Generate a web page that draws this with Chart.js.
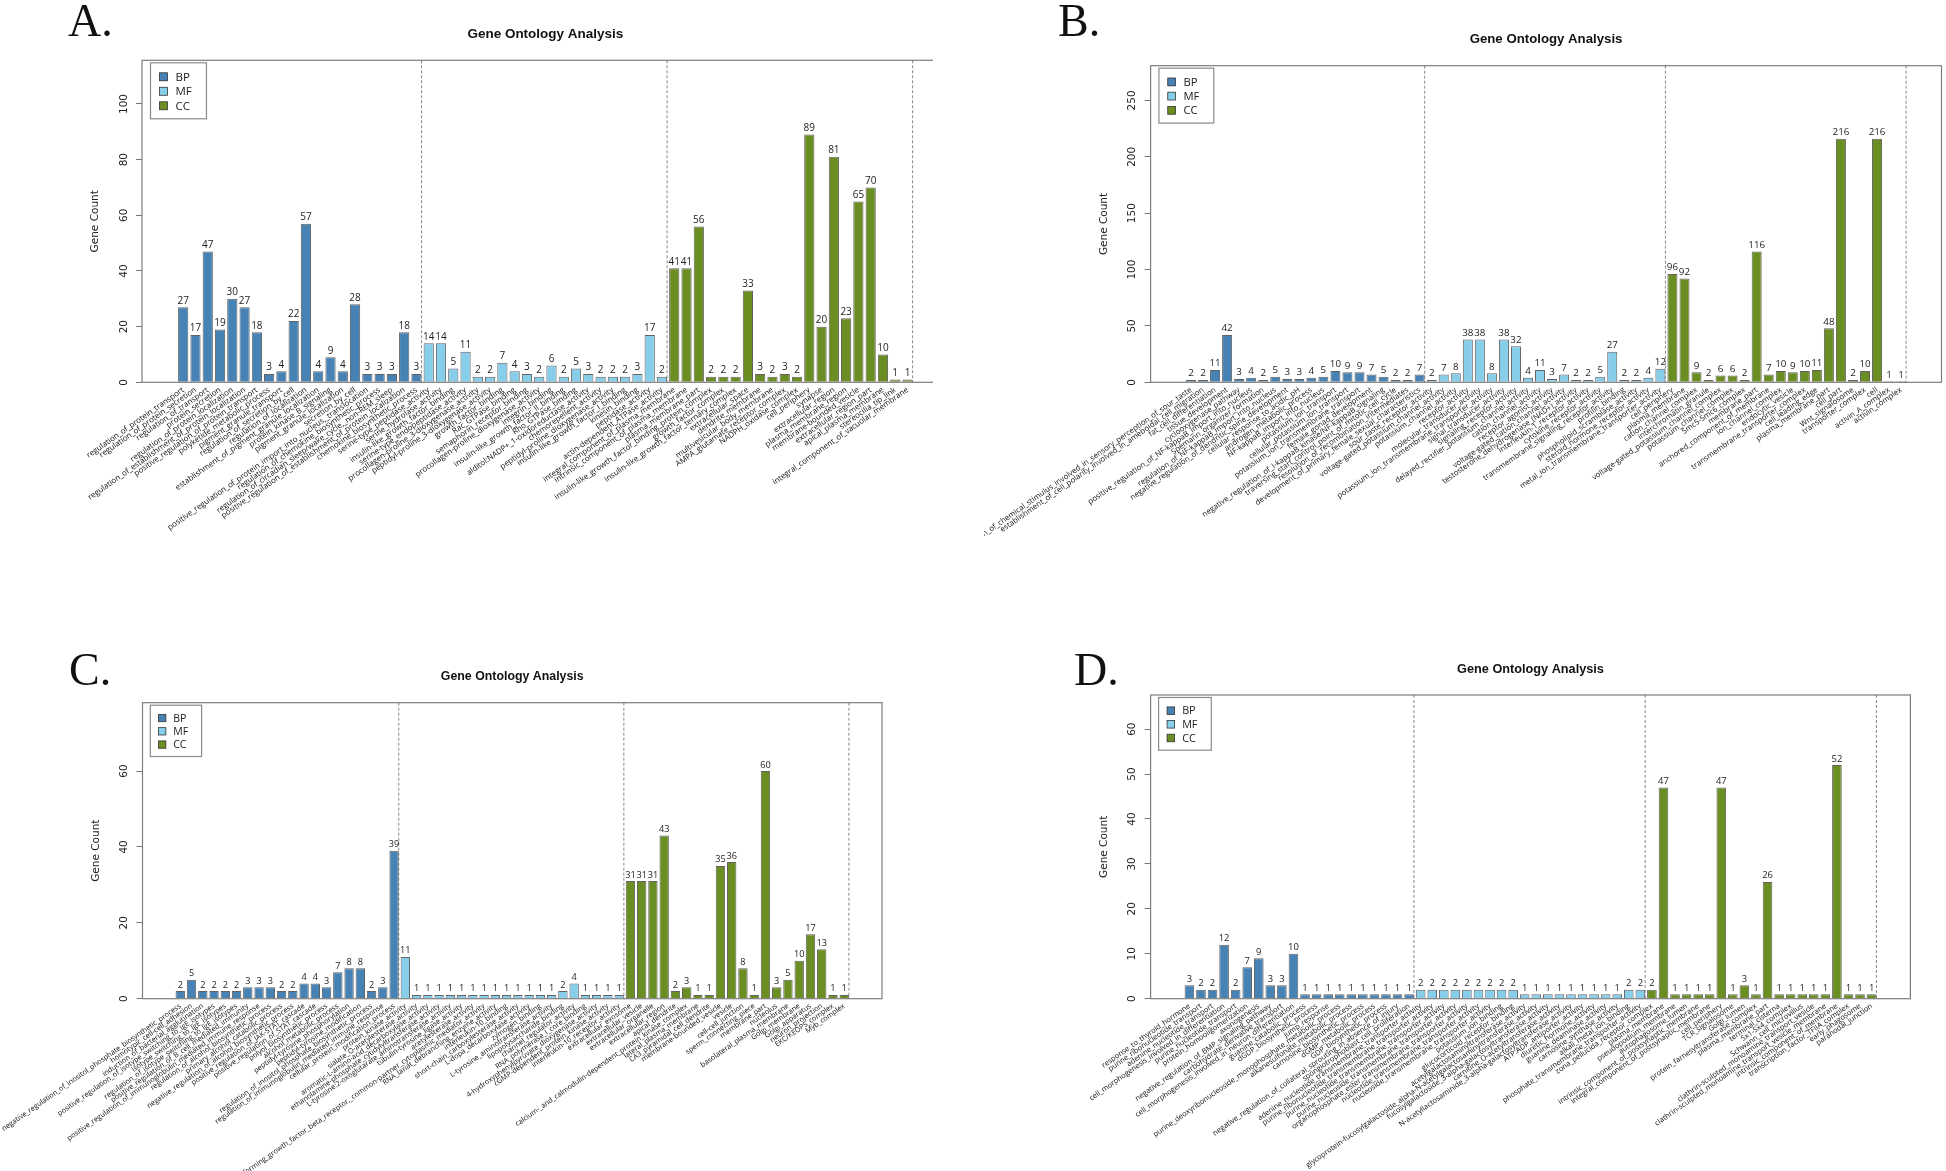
<!DOCTYPE html>
<html>
<head>
<meta charset="utf-8">
<script src="https://cdn.jsdelivr.net/npm/chart.js@4.4.1/dist/chart.umd.min.js"></script>
<style>
html, body { margin: 0; padding: 0; background: #fff; }
body { width: 1946px; height: 1171px; position: relative; overflow: hidden; }
.panel { position: absolute; overflow: hidden; }
.panel canvas { position: absolute; left: 0; top: 0; }
</style>
</head>
<body>
<div class="panel" style="left:0;top:0;width:933px;height:585px"><canvas id="cA" width="973" height="585"></canvas></div>
<div class="panel" style="left:984px;top:0;width:962px;height:585px"><canvas id="cB" width="962" height="585"></canvas></div>
<div class="panel" style="left:0;top:585px;width:973px;height:586px"><canvas id="cC" width="973" height="586"></canvas></div>
<div class="panel" style="left:973px;top:585px;width:973px;height:586px"><canvas id="cD" width="973" height="586"></canvas></div>
<script>
// groupes GO et couleurs
const GROUPS = ['BP', 'MF', 'CC'];
const COLORS = ['#4682B4', '#87CEEB', '#6B8E23'];
const TITLE = 'Gene Ontology Analysis';
const Y_TITLE = 'Gene Count';

// ---- panel A ----
const aBpLabels = ['regulation_of_protein_transport', 'regulation_of_protein_secretion', 'regulation_of_transport', 'protein_secretion', 'regulation_of_protein_localization', 'regulation_of_establishment_of_protein_localization', 'positive_regulation_of_protein_transport', 'polyketide_metabolic_process', 'pigment_granule_transport', 'regulation_of_secretion_by_cell', 'regulation_of_localization', 'establishment_of_pigment_granule_localization', 'protein_kinase_B_signaling', 'pigment_granule_localization', 'secretion_by_cell', 'positive_regulation_of_protein_import_into_nucleus,_translocation', 'regulation_of_chemokine_biosynthetic_process', 'regulation_of_circadian_sleep/wake_cycle,_non-REM_sleep', 'positive_regulation_of_establishment_of_protein_localization', 'chemokine_biosynthetic_process'];
const aBpCounts = [27, 17, 47, 19, 30, 27, 18, 3, 4, 22, 57, 4, 9, 4, 28, 3, 3, 3, 18, 3];
const aMfLabels = ['serine-type_peptidase_activity', 'serine_hydrolase_activity', 'insulin-like_growth_factor_binding', 'serine-type_endopeptidase_activity', 'procollagen-proline_3-dioxygenase_activity', 'peptidyl-proline_3-dioxygenase_activity', 'growth_factor_binding', 'Rac_GTPase_binding', 'semaphorin_receptor_binding', 'procollagen-proline_dioxygenase_activity', 'integrin_binding', 'insulin-like_growth_factor_II_binding', 'Rho_GTPase_binding', 'alditol:NADP+_1-oxidoreductase_activity', 'chemorepellent_activity', 'peptidyl-proline_dioxygenase_activity', 'insulin-like_growth_factor_I_binding', 'kinesin_binding', 'peptidase_activity', 'actin-dependent_ATPase_activity'];
const aMfCounts = [14, 14, 5, 11, 2, 2, 7, 4, 3, 2, 6, 2, 5, 3, 2, 2, 2, 3, 17, 2];
const aCcLabels = ['integral_component_of_plasma_membrane', 'intrinsic_component_of_plasma_membrane', 'plasma_membrane_part', 'insulin-like_growth_factor_binding_protein_complex', 'growth_factor_complex', 'insulin-like_growth_factor_ternary_complex', 'extracellular_space', 'dendrite_membrane', 'multivesicular_body_membrane', 'AMPA_glutamate_receptor_complex', 'NADPH_oxidase_complex', 'cell_periphery', 'synapse', 'extracellular_region', 'plasma_membrane_region', 'membrane-bounded_vesicle', 'extracellular_region_part', 'apical_plasma_membrane', 'stereocilia_tip_link', 'integral_component_of_vacuolar_membrane'];
const aCcCounts = [41, 41, 56, 2, 2, 2, 33, 3, 2, 3, 2, 89, 20, 81, 23, 65, 70, 10, 1, 1];
const aTicks = [0, 20, 40, 60, 80, 100];

// ---- panel B ----
const bBpLabels = ['detection_of_chemical_stimulus_involved_in_sensory_perception_of_sour_taste', 'establishment_of_cell_polarity_involved_in_ameboidal_cell_migration', 'fat_cell_differentiation', 'tissue_development', 'cyclooxygenase_pathway', 'positive_regulation_of_NF-kappaB_import_into_nucleus', 'Spemann_organizer_formation', 'regulation_of_NF-kappaB_import_into_nucleus', 'negative_regulation_of_dendritic_spine_development', 'cellular_response_to_acidic_pH', 'androgen_metabolic_process', 'NF-kappaB_import_into_nucleus', 'potassium_ion_transport', 'cellular_potassium_ion_transport', 'potassium_ion_transmembrane_transport', 'female_gonad_development', 'negative_regulation_of_I-kappaB_kinase/NF-kappaB_signaling', 'traversing_start_control_point_of_mitotic_cell_cycle', 'resolution_of_recombination_intermediates', 'development_of_primary_female_sexual_characteristics'];
const bBpCounts = [2, 2, 11, 42, 3, 4, 2, 5, 3, 3, 4, 5, 10, 9, 9, 7, 5, 2, 2, 7];
const bMfLabels = ['sour_taste_receptor_activity', 'voltage-gated_potassium_channel_activity', 'potassium_channel_activity', 'receptor_activity', 'molecular_transducer_activity', 'potassium_ion_transmembrane_transporter_activity', 'signal_transducer_activity', 'signaling_receptor_activity', 'delayed_rectifier_potassium_channel_activity', 'cation_channel_activity', 'receptor_agonist_activity', 'voltage-gated_cation_channel_activity', 'testosterone_dehydrogenase_(NAD+)_activity', 'interleukin-1_receptor_activity', 'cytokine_receptor_activity', 'transmembrane_signaling_receptor_activity', 'profilin_binding', 'phospholipid_scramblase_activity', 'steroid_hormone_receptor_activity', 'metal_ion_transmembrane_transporter_activity'];
const bMfCounts = [2, 7, 8, 38, 38, 8, 38, 32, 4, 11, 3, 7, 2, 2, 5, 27, 2, 2, 4, 12];
const bCcLabels = ['cell_periphery', 'plasma_membrane', 'cation_channel_complex', 'interchromatin_granule', 'voltage-gated_potassium_channel_complex', 'potassium_channel_complex', 'Smc5-Smc6_complex', 'membrane_part', 'anchored_component_of_membrane', 'ion_channel_complex', 'endocytic_vesicle', 'transmembrane_transporter_complex', 'cell_leading_edge', 'plasma_membrane_part', 'cell_part', 'Wnt_signalosome', 'transporter_complex', 'cell', 'activin_A_complex', 'activin_complex'];
const bCcCounts = [96, 92, 9, 2, 6, 6, 2, 116, 7, 10, 9, 10, 11, 48, 216, 2, 10, 216, 1, 1];
const bTicks = [0, 50, 100, 150, 200, 250];

// ---- panel C ----
const cBpLabels = ['negative_regulation_of_inositol_phosphate_biosynthetic_process', 'homotypic_cell-cell_adhesion', 'induction_of_bacterial_agglutination', 'positive_regulation_of_isotype_switching_to_IgE_isotypes', 'isotype_switching_to_IgE_isotypes', 'regulation_of_isotype_switching_to_IgE_isotypes', 'positive_regulation_of_B_cell_mediated_immunity', 'positive_regulation_of_immunoglobulin_mediated_immune_response', 'regulation_of_alcohol_biosynthetic_process', 'primary_alcohol_catabolic_process', 'negative_regulation_of_alcohol_biosynthetic_process', 'positive_regulation_of_JAK-STAT_cascade', 'positive_regulation_of_STAT_cascade', 'polyol_biosynthetic_process', 'alcohol_metabolic_process', 'peptidyl-tyrosine_phosphorylation', 'peptidyl-tyrosine_modification', 'regulation_of_inositol_phosphate_biosynthetic_process', 'regulation_of_immunoglobulin_mediated_immune_response', 'cellular_protein_modification_process'];
const cBpCounts = [2, 5, 2, 2, 2, 2, 3, 3, 3, 2, 2, 4, 4, 3, 7, 8, 8, 2, 3, 39];
const cMfLabels = ['protein_kinase_activity', 'sialate_O-acetylesterase_activity', 'aromatic-L-amino-acid_decarboxylase_activity', 'ethanolamine-phosphate_cytidylyltransferase_activity', 'L-tyrosine:2-oxoglutarate_aminotransferase_activity', 'tubulin-tyrosine_ligase_activity', 'acetylesterase_activity', 'transforming_growth_factor_beta_receptor,_common-partner_cytoplasmic_mediator_activity', 'RNA_lariat_debranching_enzyme_activity', 'interleukin-10_binding', 'short-chain_carboxylesterase_activity', 'L-dopa_decarboxylase_activity', 'zymogen_binding', 'L-tyrosine_aminotransferase_activity', 'lipopolysaccharide_binding', 'channel_regulator_activity', 'RNA_polymerase_I_core_binding', '4-hydroxyphenylpyruvate_dioxygenase_activity', 'cGMP-dependent_protein_kinase_activity', 'interleukin-10_receptor_activity'];
const cMfCounts = [11, 1, 1, 1, 1, 1, 1, 1, 1, 1, 1, 1, 1, 1, 2, 4, 1, 1, 1, 1];
const cCcLabels = ['extracellular_exosome', 'extracellular_vesicle', 'extracellular_organelle', 'extracellular_region', 'apical_dendrite', 'calcium-_and_calmodulin-dependent_protein_kinase_complex', 'lateral_plasma_membrane', 'CA3_pyramidal_cell_dendrite', 'membrane-bounded_vesicle', 'vesicle', 'cell-cell_junction', 'sperm_connecting_piece', 'membrane_part', 'nucleolus', 'basolateral_plasma_membrane', 'Golgi_membrane', 'Golgi_apparatus', 'neuron_projection', 'EKC/KEOPS_complex', 'Myb_complex'];
const cCcCounts = [31, 31, 31, 43, 2, 3, 1, 1, 35, 36, 8, 1, 60, 3, 5, 10, 17, 13, 1, 1];
const cTicks = [0, 20, 40, 60];

// ---- panel D ----
const dBpLabels = ['response_to_thyroid_hormone', 'purine_ribonucleotide_transport', 'adenine_nucleotide_transport', 'cell_morphogenesis_involved_in_differentiation', 'purine_nucleotide_transport', 'protein_homooligomerization', 'axonogenesis', 'negative_regulation_of_BMP_signaling_pathway', 'carbohydrate_derivative_transport', 'cell_morphogenesis_involved_in_neuron_differentiation', 'guanine_catabolic_process', 'dGDP_biosynthetic_process', 'jump_response', 'purine_deoxyribonucleoside_monophosphate_metabolic_process', 'alkanesulfonate_metabolic_process', 'carnosine_biosynthetic_process', 'dGMP_metabolic_process', 'GDP_biosynthetic_process', 'negative_regulation_of_collateral_sprouting_in_absence_of_injury', 'spongiotrophoblast_cell_proliferation'];
const dBpCounts = [3, 2, 2, 12, 2, 7, 9, 3, 3, 10, 1, 1, 1, 1, 1, 1, 1, 1, 1, 1];
const dMfLabels = ['adenine_nucleotide_transmembrane_transporter_activity', 'purine_ribonucleotide_transmembrane_transporter_activity', 'purine_nucleotide_transmembrane_transporter_activity', 'purine_nucleoside_transmembrane_transporter_activity', 'organophosphate_ester_transmembrane_transporter_activity', 'nucleotide_transmembrane_transporter_activity', 'nucleoside_transmembrane_transporter_activity', 'potassium_ion_binding', 'glucocorticoid_receptor_binding', 'acetylgalactosaminyltransferase_activity', 'glycoprotein-fucosylgalactoside_alpha-N-acetylgalactosaminyltransferase_activity', 'fucosylgalactoside_3-alpha-galactosyltransferase_activity', 'carnitine_O-acetyltransferase_activity', 'N-acetyllactosaminide_3-alpha-galactosyltransferase_activity', 'ATP:ADP_antiporter_activity', 'diuretic_hormone_activity', 'guanine_deaminase_activity', 'carnosine_synthase_activity', 'alkali_metal_ion_binding', 'phosphate_transmembrane_transporter_activity'];
const dMfCounts = [2, 2, 2, 2, 2, 2, 2, 2, 2, 1, 1, 1, 1, 1, 1, 1, 1, 1, 2, 2];
const dCcLabels = ['zona_pellucida_receptor_complex', 'plasma_membrane', 'pseudopodium_membrane', 'autophagosome_lumen', 'intrinsic_component_of_postsynaptic_membrane', 'integral_component_of_postsynaptic_membrane', 'cell_periphery', 'TCR_signalosome', 'Golgi_lumen', 'protein_farnesyltransferase_complex', 'plasma_membrane_part', 'terminal_cisterna', 'Sx1-Sx4_complex', 'Schwann_cell_microvillus', 'clathrin-sculpted_monoamine_transport_vesicle', 'clathrin-sculpted_monoamine_transport_vesicle_membrane', 'intrinsic_component_of_membrane', 'transcription_factor_TFIIA_complex', 'early_phagosome', 'paranodal_junction'];
const dCcCounts = [2, 47, 1, 1, 1, 1, 47, 1, 3, 1, 26, 1, 1, 1, 1, 1, 52, 1, 1, 1];
const dTicks = [0, 10, 20, 30, 40, 50, 60];

// dessin du cadre, des séparateurs, des valeurs, de la légende et des titres
const decoPlugin = {
  id: 'deco',
  afterDraw(chart, args, o) {
    const { ctx, chartArea: a } = chart;
    const x = chart.scales.x;
    const s = o.scale;
    ctx.save();

    ctx.strokeStyle = '#7d7d7d';
    ctx.lineWidth = 1.2;
    ctx.strokeRect(a.left, a.top, a.right - a.left, a.bottom - a.top);

    ctx.setLineDash([3, 2]);
    ctx.strokeStyle = '#6a6a6a';
    ctx.lineWidth = 0.8;
    o.bounds.forEach(v => {
      const px = x.getPixelForValue(v);
      ctx.beginPath();
      ctx.moveTo(px, a.top);
      ctx.lineTo(px, a.bottom);
      ctx.stroke();
    });
    ctx.setLineDash([]);

    // valeurs au dessus des barres
    ctx.fillStyle = '#222';
    ctx.font = (10 * s).toFixed(2) + 'px "Open Sans"';
    ctx.textAlign = 'center';
    ctx.textBaseline = 'bottom';
    chart.data.datasets.forEach((ds, i) => {
      chart.getDatasetMeta(i).data.forEach((bar, j) => {
        ctx.fillText(String(ds.data[j].y), bar.x, bar.y - 1.5);
      });
    });

    // légende
    const lx = a.left + 8.5 * s, ly = a.top + 2.5, lw = 56 * s, lh = 56 * s;
    ctx.fillStyle = '#fff';
    ctx.fillRect(lx, ly, lw, lh);
    ctx.strokeStyle = '#8a8a8a';
    ctx.lineWidth = 1.2;
    ctx.strokeRect(lx, ly, lw, lh);
    ctx.font = (11.5 * s).toFixed(2) + 'px "Open Sans"';
    ctx.textAlign = 'left';
    ctx.textBaseline = 'middle';
    chart.data.datasets.forEach((ds, i) => {
      const cy = ly + (14 + i * 14.5) * s;
      const q = 8 * s;
      ctx.fillStyle = ds.backgroundColor;
      ctx.fillRect(lx + 9 * s, cy - q / 2, q, q);
      ctx.strokeStyle = '#333';
      ctx.lineWidth = 0.8;
      ctx.strokeRect(lx + 9 * s, cy - q / 2, q, q);
      ctx.fillStyle = '#222';
      ctx.fillText(ds.label, lx + 25 * s, cy + 0.5);
    });

    // titre et lettre du panneau
    ctx.fillStyle = '#111';
    ctx.font = 'bold ' + (13.5 * s).toFixed(2) + 'px "Liberation Sans"';
    ctx.textAlign = 'center';
    ctx.fillText(TITLE, (a.left + a.right) / 2, a.top - 26);
    ctx.font = '46px "Liberation Serif"';
    ctx.textAlign = 'left';
    ctx.textBaseline = 'alphabetic';
    ctx.fillText(o.letter, o.letterX, o.letterY);
    ctx.restore();
  }
};

const meas = document.createElement('canvas').getContext('2d');
meas.font = '10.5px "DejaVu Sans"';

function buildPanel(id, letter, labelSets, countSets, yTicks, L) {
  const labels = labelSets.flat();
  const centers = labels.map((_, i) => 0.7 + 1.2 * i);
  const starts = [];
  let n = 0;
  countSets.forEach(c => { starts.push(n); n += c.length; });
  const bounds = countSets.map((c, k) => 1.2 * (starts[k] + c.length));
  const ymax = Math.max(...countSets.flat()) * 1.3;
  const widest = Math.max(...yTicks.map(v => meas.measureText(String(v)).width));
  const YW = 60;
  const xmin = -2.67, xmax = 74.87;
  const unit = (L.boxRight - L.boxLeft) / (xmax - xmin);
  const s = unit / 10.41;

  const datasets = GROUPS.map((g, k) => ({
    label: g,
    data: countSets[k].map((v, i) => ({ x: centers[starts[k] + i], y: v })),
    backgroundColor: COLORS[k],
    borderColor: 'rgba(45,45,45,0.75)',
    borderWidth: 1,
    borderSkipped: 'bottom',
    grouped: false,
    categoryPercentage: 1,
    barPercentage: 1 / 1.2
  }));

  const canvas = document.getElementById(id);
  return new Chart(canvas, {
    type: 'bar',
    data: { datasets },
    plugins: [decoPlugin],
    options: {
      responsive: false,
      animation: false,
      events: [],
      layout: { padding: { left: L.boxLeft - YW, right: canvas.width - L.boxRight, top: L.boxTop, bottom: 0 } },
      plugins: {
        legend: { display: false },
        tooltip: { enabled: false },
        deco: { bounds, letter, letterX: L.letterX, letterY: L.letterY, scale: s }
      },
      scales: {
        x: {
          type: 'linear',
          bounds: 'data',
          min: xmin,
          max: xmax,
          afterBuildTicks: sc => { sc.ticks = centers.map(v => ({ value: v })); },
          afterFit: sc => { sc.paddingLeft = 0; sc.paddingRight = 0; sc.height = canvas.height - L.boxBottom; },
          grid: { display: false, drawTicks: false },
          border: { display: false },
          ticks: {
            autoSkip: false,
            minRotation: 35,
            maxRotation: 35,
            padding: 3,
            color: '#111',
            font: { family: 'Open Sans', size: +(7.9 * s).toFixed(2) },
            callback: (v, i) => labels[i]
          }
        },
        y: {
          bounds: 'data',
          min: 0,
          max: ymax,
          afterBuildTicks: sc => { sc.ticks = yTicks.map(v => ({ value: v })); },
          afterFit: sc => { sc.width = YW; sc.paddingTop = 0; sc.paddingBottom = 0; },
          grid: { display: true, drawOnChartArea: false, drawTicks: true, tickLength: 6, color: '#777', lineWidth: 1 },
          border: { display: false },
          ticks: {
            minRotation: 90,
            maxRotation: 90,
            crossAlign: 'center',
            padding: 12 - widest / 2,
            color: '#222',
            font: { family: 'DejaVu Sans', size: 10.5 }
          },
          title: {
            display: true,
            text: Y_TITLE,
            color: '#222',
            font: { family: 'DejaVu Sans', size: 10.5 },
            padding: { top: 7.2, bottom: 0 }
          }
        }
      }
    }
  });
}

buildPanel('cA', 'A.', [aBpLabels, aMfLabels, aCcLabels], [aBpCounts, aMfCounts, aCcCounts], aTicks,
  { boxLeft: 142, boxRight: 948.7, boxTop: 60.3, boxBottom: 382.3, letterX: 68, letterY: 36 });
buildPanel('cB', 'B.', [bBpLabels, bMfLabels, bCcLabels], [bBpCounts, bMfCounts, bCcCounts], bTicks,
  { boxLeft: 166.6, boxRight: 957.5, boxTop: 65.7, boxBottom: 382.3, letterX: 74, letterY: 36 });
buildPanel('cC', 'C.', [cBpLabels, cMfLabels, cCcLabels], [cBpCounts, cMfCounts, cCcCounts], cTicks,
  { boxLeft: 142.5, boxRight: 882, boxTop: 117.7, boxBottom: 413.7, letterX: 69, letterY: 100 });
buildPanel('cD', 'D.', [dBpLabels, dMfLabels, dCcLabels], [dBpCounts, dMfCounts, dCcCounts], dTicks,
  { boxLeft: 177.6, boxRight: 937.4, boxTop: 110, boxBottom: 413.7, letterX: 101, letterY: 100 });
</script>
</body>
</html>
